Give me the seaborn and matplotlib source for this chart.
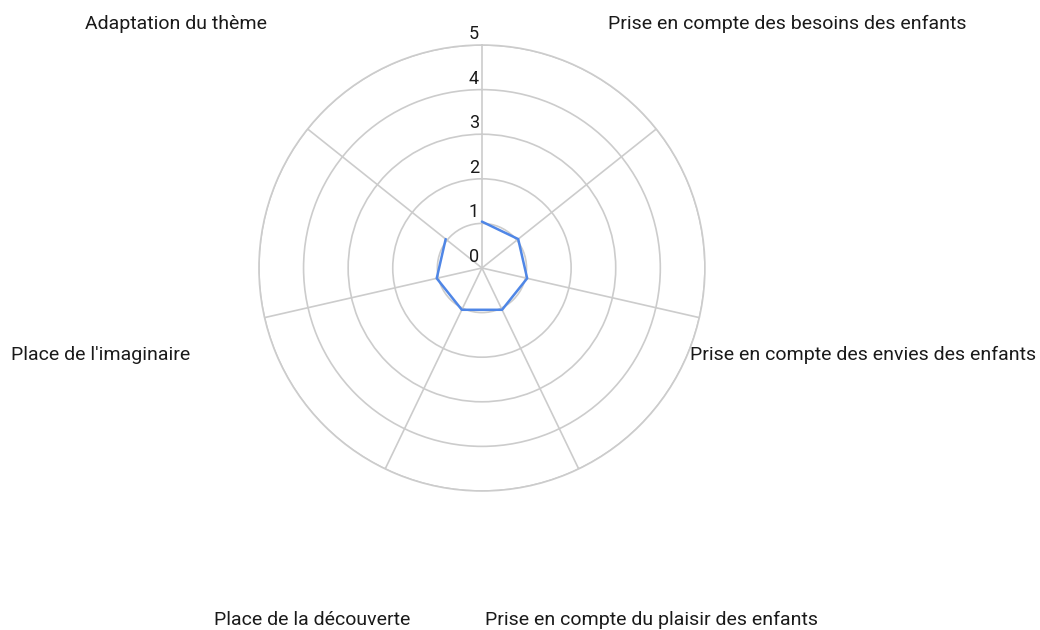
import numpy as np
import pandas as pd
import matplotlib
matplotlib.use("Agg")
import matplotlib.pyplot as plt
import seaborn as sns

# axes of the radar, clockwise from the top (the top one has no label)
categories = [
    "",
    "Prise en compte des besoins des enfants",
    "Prise en compte des envies des enfants",
    "Prise en compte du plaisir des enfants",
    "Place de la découverte",
    "Place de l'imaginaire",
    "Adaptation du thème",
]
values = [1.04, 1.04, 1.04, 1.04, 1.04, 1.04, 1.04]
r_ticks = [0, 1, 2, 3, 4, 5]

sns.set_style("white")
plt.rcParams["font.family"] = ["Roboto", "DejaVu Sans"]

grid_color = "#cccccc"
line_color = "#4f86e6"
text_color = "#1a1a1a"

n = len(categories)
angles = np.arange(n) * 2 * np.pi / n

fig = plt.figure(figsize=(10.4, 6.3), dpi=100)
ax = fig.add_axes([0.249, 0.2206, 0.4288, 0.708], projection="polar")
ax.set_theta_offset(np.pi / 2)
ax.set_theta_direction(-1)

# closed series
df = pd.DataFrame({
    "theta": np.append(angles, angles[0]),
    "value": values + values[:1],
})
sns.lineplot(data=df, x="theta", y="value", sort=False, ax=ax,
             color=line_color, linewidth=1.8)
for ln in ax.lines:
    ln.set_solid_joinstyle("round")

ax.set_ylim(0, r_ticks[-1])
ax.set_yticks(r_ticks[1:])
ax.set_yticklabels([])
ax.set_xticks(angles)
ax.set_xticklabels([])
ax.set_xlabel("")
ax.set_ylabel("")
ax.grid(True, color=grid_color, linewidth=1.2)
ax.spines["polar"].set_color(grid_color)
ax.spines["polar"].set_linewidth(1.2)

# radial tick labels along the top spoke
for r in r_ticks:
    ax.annotate(str(r), xy=(0, r), xytext=(-8, 11), textcoords="offset pixels",
                ha="center", va="center", fontsize=13, color=text_color)

# category labels, placed far outside the grid
for a, lab in zip(angles, categories):
    ax.text(a, 8.77, lab, ha="center", va="center", fontsize=14,
            color=text_color, clip_on=False)

fig.savefig("out.png", dpi=100)
